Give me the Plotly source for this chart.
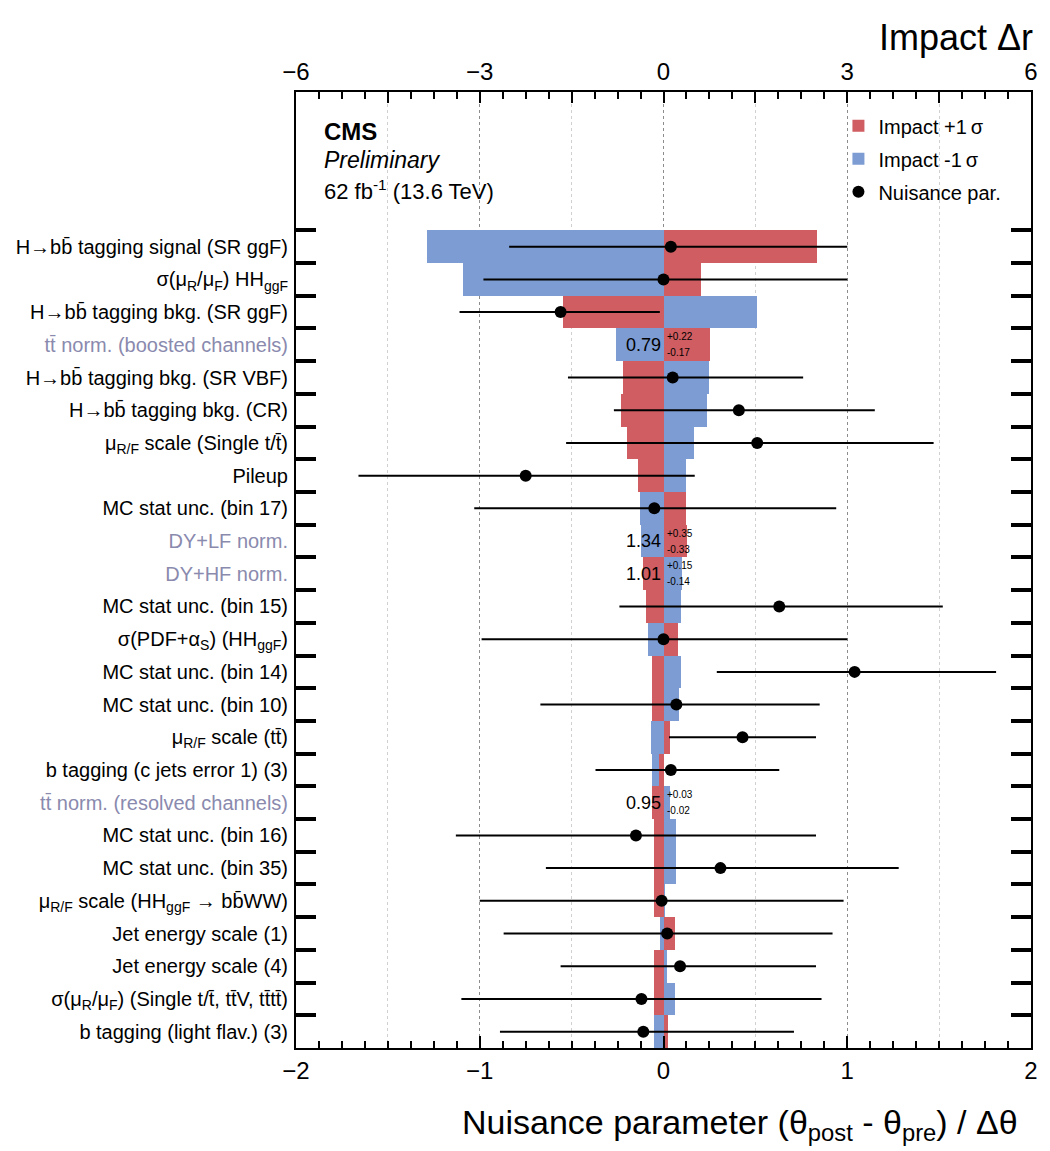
import plotly.graph_objects as go

# ---------------- data (top row first) ----------------
GRAY = "#8a8aae"
labels = [
    "H→bb\u0304 tagging signal (SR ggF)",
    "σ(μ<sub>R</sub>/μ<sub>F</sub>) HH<sub>ggF</sub>",
    "H→bb\u0304 tagging bkg. (SR ggF)",
    f"<span style='color:{GRAY}'>tt\u0304 norm. (boosted channels)</span>",
    "H→bb\u0304 tagging bkg. (SR VBF)",
    "H→bb\u0304 tagging bkg. (CR)",
    "μ<sub>R/F</sub> scale (Single t/t\u0304)",
    "Pileup",
    "MC stat unc. (bin 17)",
    f"<span style='color:{GRAY}'>DY+LF norm.</span>",
    f"<span style='color:{GRAY}'>DY+HF norm.</span>",
    "MC stat unc. (bin 15)",
    "σ(PDF+α<sub>S</sub>) (HH<sub>ggF</sub>)",
    "MC stat unc. (bin 14)",
    "MC stat unc. (bin 10)",
    "μ<sub>R/F</sub> scale (tt\u0304)",
    "b tagging (c jets error 1) (3)",
    f"<span style='color:{GRAY}'>tt\u0304 norm. (resolved channels)</span>",
    "MC stat unc. (bin 16)",
    "MC stat unc. (bin 35)",
    "μ<sub>R/F</sub> scale (HH<sub>ggF</sub> → bb\u0304WW)",
    "Jet energy scale (1)",
    "Jet energy scale (4)",
    "σ(μ<sub>R</sub>/μ<sub>F</sub>) (Single t/t\u0304, tt\u0304V, tt\u0304tt\u0304)",
    "b tagging (light flav.) (3)",
]

# impact on r for +1 sigma (red) and -1 sigma (blue)
impact_up = [2.51, 0.62, -1.64, 0.76, -0.66, -0.70, -0.60, -0.41, 0.37, 0.39,
             -0.34, -0.28, 0.23, -0.18, -0.18, 0.11, -0.07, -0.18, -0.16, -0.15,
             -0.16, 0.19, -0.16, -0.15, 0.08]
impact_down = [-3.86, -3.27, 1.52, -0.78, 0.75, 0.71, 0.50, 0.36, -0.39, -0.37,
               0.31, 0.29, -0.26, 0.28, 0.26, -0.21, -0.19, 0.10, 0.21, 0.21,
               0.03, -0.06, 0.06, 0.18, -0.16]

# pulls (None for freely floating rate parameters)
pull = [0.04, 0.0, -0.56, None, 0.05, 0.41, 0.51, -0.75, -0.05, None,
        None, 0.63, 0.0, 1.04, 0.07, 0.43, 0.04, None, -0.15, 0.31,
        -0.01, 0.02, 0.09, -0.12, -0.11]
pull_lo = [-0.84, -0.98, -1.11, None, -0.52, -0.27, -0.53, -1.66, -1.03, None,
           None, -0.24, -0.99, 0.29, -0.67, 0.03, -0.37, None, -1.13, -0.64,
           -1.00, -0.87, -0.56, -1.10, -0.89]
pull_hi = [1.00, 1.00, -0.02, None, 0.76, 1.15, 1.47, 0.17, 0.94, None,
           None, 1.52, 1.00, 1.81, 0.85, 0.83, 0.63, None, 0.83, 1.28,
           0.98, 0.92, 0.83, 0.86, 0.71]

# rate parameters
rate_rows = [3, 9, 10, 17]
rate_val = ["0.79", "1.34", "1.01", "0.95"]
rate_up = ["+0.22", "+0.35", "+0.15", "+0.03"]
rate_dn = ["-0.17", "-0.33", "-0.14", "-0.02"]

# ---------------- figure ----------------
RED = "#cf5d61"
BLUE = "#7c9cd3"
FONT = "Liberation Sans, Arial, Helvetica, sans-serif"

n = len(labels)
ypos = [n - 1 - i for i in range(n)]

fig = go.Figure()
fig.add_trace(go.Bar(
    y=ypos, x=impact_down, orientation="h", xaxis="x", yaxis="y", width=1,
    marker=dict(color=BLUE, line=dict(width=0)), name="Impact -1\u2009σ",
    legendrank=2, legendgroup="b", hoverinfo="skip"))
fig.add_trace(go.Bar(
    y=ypos, x=impact_up, orientation="h", xaxis="x", yaxis="y", width=1,
    marker=dict(color=RED, line=dict(width=0)), name="Impact +1\u2009σ",
    legendrank=1, legendgroup="a", hoverinfo="skip"))

px, py, pm, pp = [], [], [], []
for i in range(n):
    if pull[i] is None:
        continue
    px.append(pull[i])
    py.append(ypos[i])
    pm.append(pull[i] - pull_lo[i])
    pp.append(pull_hi[i] - pull[i])

fig.add_trace(go.Scatter(
    x=px, y=py, mode="markers", xaxis="x2", yaxis="y",
    marker=dict(color="black", size=12),
    error_x=dict(type="data", symmetric=False, array=pp, arrayminus=pm,
                 color="black", thickness=2, width=0),
    name="Nuisance par.", legendrank=3, legendgroup="c"))

annotations = []
for r, v, u, d in zip(rate_rows, rate_val, rate_up, rate_dn):
    yy = ypos[r]
    annotations.append(dict(x=0, y=yy, xref="x", yref="y", text=v, showarrow=False,
                            xanchor="right", yanchor="middle", xshift=-1,
                            font=dict(size=18, color="black", family=FONT)))
    annotations.append(dict(x=0, y=yy, xref="x", yref="y", text=u, showarrow=False,
                            xanchor="left", yanchor="middle", xshift=1, yshift=8,
                            font=dict(size=10, color="black", family=FONT)))
    annotations.append(dict(x=0, y=yy, xref="x", yref="y", text=d, showarrow=False,
                            xanchor="left", yanchor="middle", xshift=1, yshift=-8,
                            font=dict(size=10, color="black", family=FONT)))

annotations += [
    dict(x=0.035, y=0.959, xref="paper", yref="paper", text="<b>CMS</b>", showarrow=False,
         xanchor="left", yanchor="middle", font=dict(size=24, family=FONT, color="black")),
    dict(x=0.035, y=0.929, xref="paper", yref="paper", text="<i>Preliminary</i>", showarrow=False,
         xanchor="left", yanchor="middle", font=dict(size=23, family=FONT, color="black")),
    dict(x=0.035, y=0.8975, xref="paper", yref="paper", text="62 fb<sup>-1</sup> (13.6 TeV)",
         showarrow=False, xanchor="left", yanchor="middle",
         font=dict(size=22, family=FONT, color="black")),
    dict(x=1.005, y=1.0565, xref="paper", yref="paper", text="Impact Δr", showarrow=False,
         xanchor="right", yanchor="middle", font=dict(size=36, family=FONT, color="black")),
    dict(x=0.985, y=-0.08, xref="paper", yref="paper",
         text="Nuisance parameter (θ<sub>post</sub> - θ<sub>pre</sub>) / Δθ", showarrow=False,
         xanchor="right", yanchor="middle", font=dict(size=34, family=FONT, color="black")),
]

top_vals = [-6, -4.5, -3, -1.5, 0, 1.5, 3, 4.5, 6]
top_text = ["\u22126", " ", "\u22123", " ", "0", " ", "3", " ", "6"]

fig.update_layout(
    width=1050, height=1151,
    margin=dict(l=296, r=14, t=92, b=103),
    paper_bgcolor="white", plot_bgcolor="white",
    barmode="overlay", bargap=0,
    font=dict(family=FONT, color="black"),
    showlegend=True,
    legend=dict(x=0.738, y=0.985, xanchor="left", yanchor="top",
                bgcolor="rgba(0,0,0,0)", font=dict(size=20, family=FONT),
                tracegroupgap=4),
    # main x axis: impact (top)
    xaxis=dict(range=[-6, 6], side="top", tickvals=top_vals,
               ticktext=top_text, ticks="inside", ticklen=11, tickwidth=1.5,
               tickcolor="black",
               minor=dict(tickmode="linear", tick0=-6, dtick=0.375, ticks="inside",
                          ticklen=7, tickwidth=1.5, tickcolor="black", showgrid=False),
               showline=True, linewidth=2, linecolor="black", mirror=True,
               showgrid=True, gridcolor="#d0d0d0", griddash="dot", gridwidth=1,
               zeroline=False, tickfont=dict(size=24, family=FONT)),
    # overlay x axis: pulls (bottom)
    xaxis2=dict(range=[-2, 2], overlaying="x", side="bottom",
                tickvals=[-2, -1, 0, 1, 2], ticks="inside", ticklen=12,
                tickwidth=1.5, tickcolor="black",
                minor=dict(tickmode="linear", tick0=-2, dtick=0.125, ticks="inside",
                           ticklen=7, tickwidth=1.5, tickcolor="black", showgrid=False),
                showline=True, linewidth=2, linecolor="black",
                showgrid=True, gridcolor="#8c8c8c", griddash="dot", gridwidth=1,
                zeroline=False, tickfont=dict(size=24, family=FONT)),
    yaxis=dict(range=[-0.5, 28.73], tickmode="array", tickvals=ypos, ticktext=labels,
               ticks="inside", ticklen=0,
               minor=dict(tickmode="array", tickvals=[k + 0.5 for k in range(n)],
                          ticks="inside", ticklen=20, tickwidth=4, tickcolor="black",
                          showgrid=False),
               showline=True, linewidth=2, linecolor="black", mirror="ticks",
               showgrid=False, zeroline=False, ticklabelstandoff=2,
               tickfont=dict(size=20, family=FONT, color="black")),
    annotations=annotations,
)

fig.write_html("out.html")
